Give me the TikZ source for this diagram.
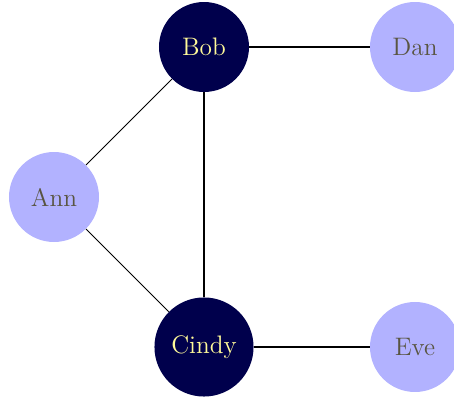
\documentclass[tikz,border=0pt]{standalone}
\usepackage{tikz}
\tikzset{
	person/.style={circle, minimum size=1.8cm, inner sep=6.5pt, font=\Large},
	lightperson/.style={person, fill=blue!30, text=yellow!25!black},
	darkperson/.style={person, fill=blue!30!black, text=yellow!40!white},
}
\begin{document}
\begin{tikzpicture}[x=1cm, y=1cm]
		\useasboundingbox (-1.08,-4.02) rectangle (8.0,3.94);
		% people
		\node[lightperson] (ann) at (0,0) {Ann};
		\node[darkperson] (bob) at (3,3) {Bob};
		\node[darkperson] (cindy) at (3,-3) {Cindy};
		\node[lightperson] (dan) at (7.22,3) {Dan};
		\node[lightperson] (eve) at (7.22,-3) {Eve};
		% friendships
		\draw[line width=0.6pt] (ann) -- (bob);
		\draw[line width=0.6pt] (ann) -- (cindy);
		\draw[line width=0.6pt] (bob) -- (cindy);
		\draw[line width=0.6pt] (bob) -- (dan);
		\draw[line width=0.6pt] (cindy) -- (eve);
	\end{tikzpicture}
\end{document}
